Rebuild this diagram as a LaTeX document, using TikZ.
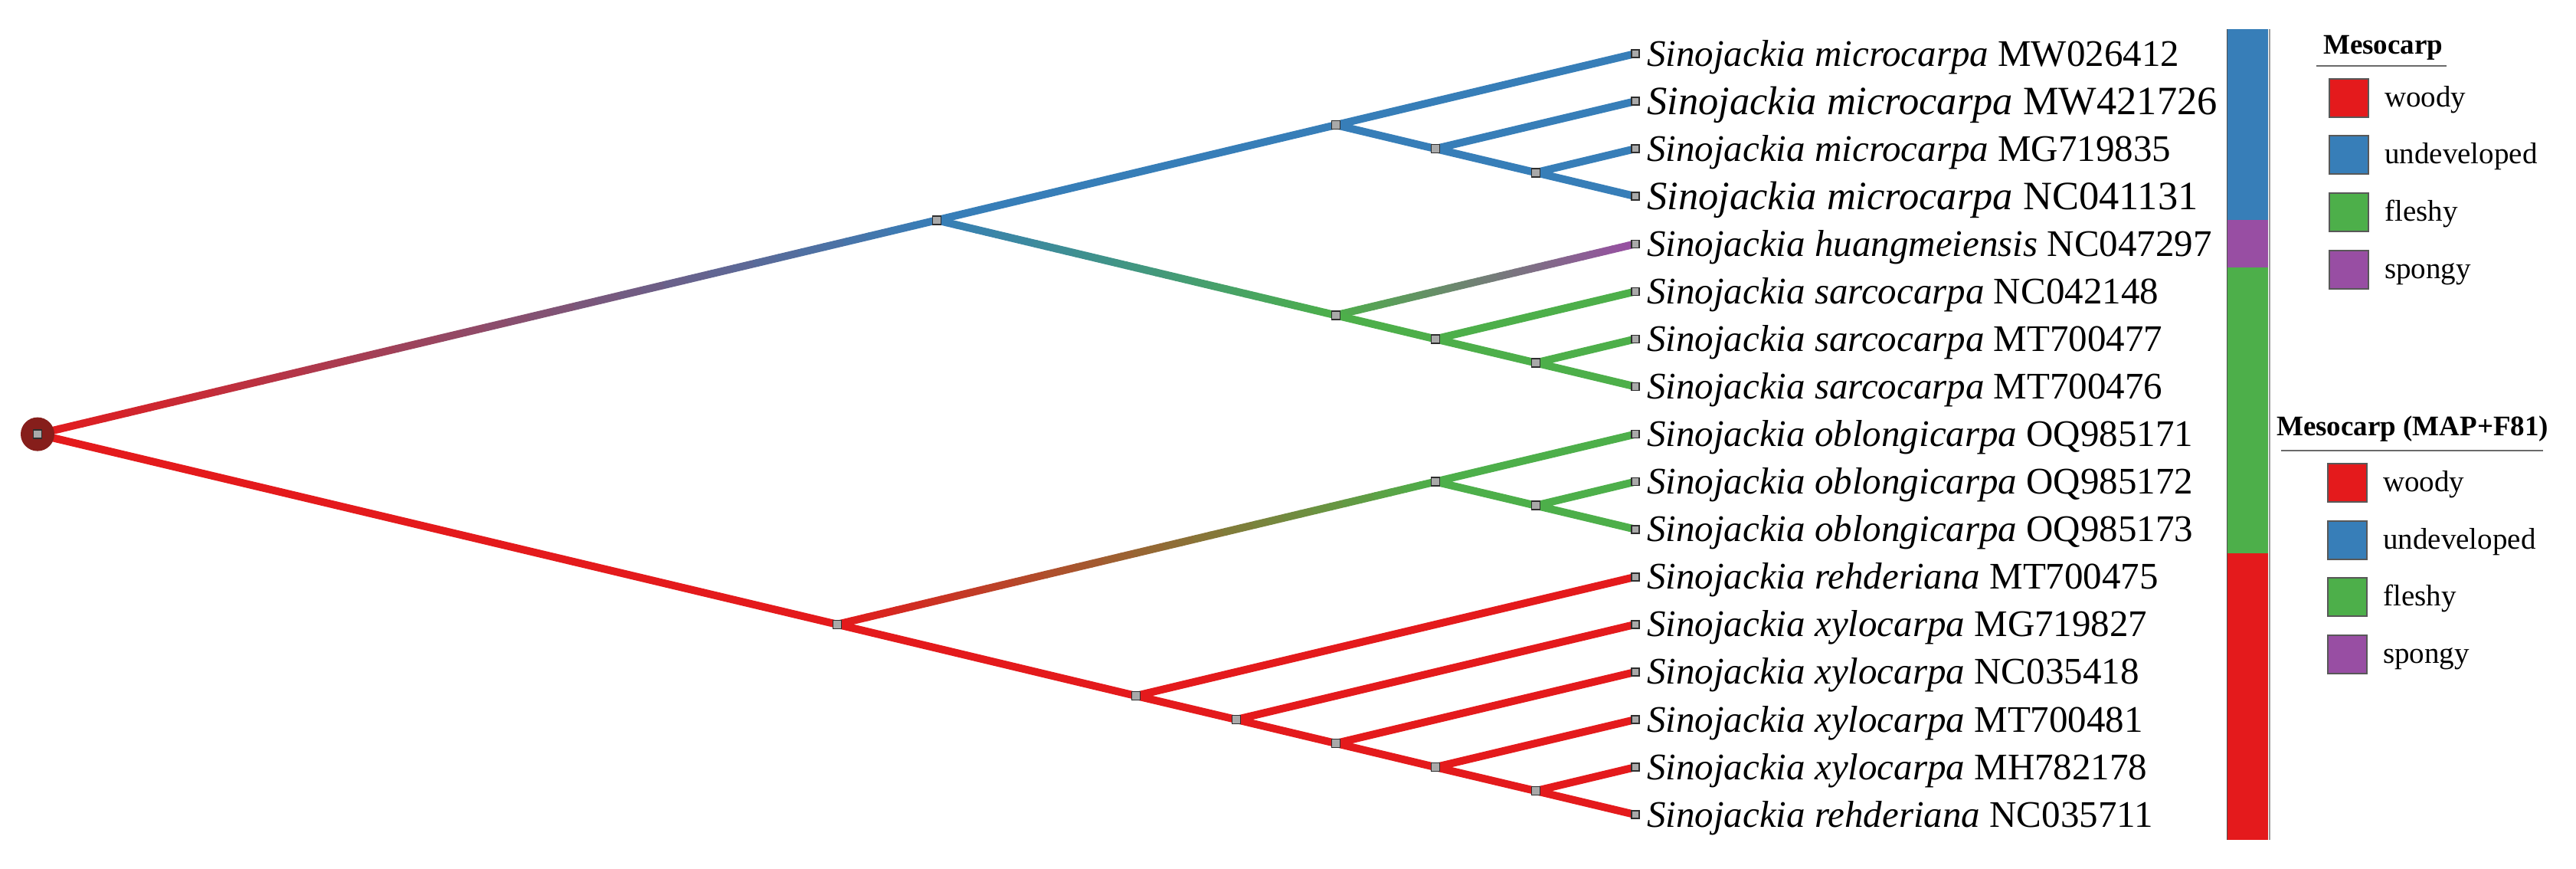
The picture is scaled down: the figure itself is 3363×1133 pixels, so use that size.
\documentclass[tikz,border=0pt]{standalone}
\usepackage{fontspec}
\setmainfont{Liberation Serif}
\usetikzlibrary{calc}
\definecolor{cwoody}{HTML}{E41A1C}
\definecolor{cundev}{HTML}{377EB8}
\definecolor{cfleshy}{HTML}{4DAF4A}
\definecolor{cspongy}{HTML}{984EA3}
\definecolor{rootred}{HTML}{861E1B}
\definecolor{mkfill}{HTML}{A9A9A9}
\definecolor{mkdraw}{HTML}{2E2E2E}
\definecolor{ulgrey}{HTML}{6A6A6A}
\tikzset{
  branch/.style={line width=10pt, line cap=round},
  marker/.style={rectangle, draw=mkdraw, fill=mkfill, line width=1.6pt, minimum size=11pt, inner sep=0pt},
  tiplabel/.style={anchor=base west, inner sep=0pt, font=\fontsize{49}{58}\selectfont},
  tiplabelbig/.style={anchor=base west, inner sep=0pt, font=\fontsize{52.5}{62}\selectfont},
  legtitle/.style={anchor=base west, inner sep=0pt, font=\fontsize{37}{44}\selectfont\bfseries},
  legbox/.style={rectangle, draw=mkdraw!80, line width=1.4pt, minimum width=51pt, minimum height=50pt, inner sep=0pt},
  leglabel/.style={anchor=base west, inner sep=0pt, font=\fontsize{39}{46}\selectfont},
  underl/.style={draw=ulgrey, line width=2pt}
}
\newcommand{\gbranch}[4]{%
  \foreach \k in {0,...,39}{%
    \pgfmathsetmacro{\ta}{\k/40}%
    \pgfmathsetmacro{\tb}{(\k+1)/40}%
    \pgfmathtruncatemacro{\pc}{100*(\k+0.5)/40}%
    \draw[branch, color=#4!\pc!#3] ($(#1)!\ta!(#2)$) -- ($(#1)!\tb!(#2)$);
  }%
}
\begin{document}
\begin{tikzpicture}[x=1pt,y=-1pt]
\useasboundingbox[fill=white] (0,0) rectangle (3363,1133);
% tips
\foreach \i/\y in {0/70.0,1/132.1,2/194.1,3/256.2,4/318.3,5/380.4,6/442.4,7/504.5,8/566.6,9/628.6,10/690.7,11/752.8,12/814.8,13/876.9,14/939.0,15/1001.1,16/1063.1}
  \coordinate (t\i) at (2135,\y);
% internal nodes
\coordinate (root) at (49,566.6);
\coordinate (A) at (1223,287.3);
\coordinate (B) at (1744,163.1);
\coordinate (C) at (1874,194.1);
\coordinate (D) at (2005,225.2);
\coordinate (E) at (1744,411.4);
\coordinate (F) at (1874,442.4);
\coordinate (G) at (2005,473.5);
\coordinate (H) at (1093,814.8);
\coordinate (I) at (1874,628.6);
\coordinate (J) at (2005,659.7);
\coordinate (K) at (1483,908.0);
\coordinate (L) at (1614,939.0);
\coordinate (M) at (1744,970.0);
\coordinate (N) at (1874,1001.1);
\coordinate (O) at (2005,1032.1);
% branches
\gbranch{root}{A}{cwoody}{cundev}
\draw[branch, cwoody] (root) -- (H);
\draw[branch, cundev] (A) -- (B) (B) -- (t0) (B) -- (C) (C) -- (t1) (C) -- (D) (D) -- (t2) (D) -- (t3);
\gbranch{A}{E}{cundev}{cfleshy}
\gbranch{E}{t4}{cfleshy}{cspongy}
\draw[branch, cfleshy] (E) -- (F) (F) -- (t5) (F) -- (G) (G) -- (t6) (G) -- (t7);
\gbranch{H}{I}{cwoody}{cfleshy}
\draw[branch, cfleshy] (I) -- (t8) (I) -- (J) (J) -- (t9) (J) -- (t10);
\draw[branch, cwoody] (H) -- (K) (K) -- (t11) (K) -- (L) (L) -- (t12) (L) -- (M) (M) -- (t13) (M) -- (N) (N) -- (t14) (N) -- (O) (O) -- (t15) (O) -- (t16);
% root marker
\node[circle, fill=rootred, minimum size=44pt, inner sep=0pt] (rootdot) at (root) {};
\node[marker] (mroot) at (root) {};
% internal markers
\foreach \n in {A,B,C,D,E,F,G,H,I,J,K,L,M,N,O}
  \node[marker] (m\n) at (\n) {};
% tip markers
\foreach \i in {0,...,16}
  \node[marker, minimum size=10pt] (mt\i) at (t\i) {};
% tip labels
\node[tiplabel] (l0) at ($(t0)+(15,16)$) {\textit{Sinojackia microcarpa} MW026412};
\node[tiplabelbig] (l1) at ($(t1)+(15,17)$) {\textit{Sinojackia microcarpa} MW421726};
\node[tiplabel] (l2) at ($(t2)+(15,16)$) {\textit{Sinojackia microcarpa} MG719835};
\node[tiplabelbig] (l3) at ($(t3)+(15,17)$) {\textit{Sinojackia microcarpa} NC041131};
\node[tiplabel] (l4) at ($(t4)+(15,16)$) {\textit{Sinojackia huangmeiensis} NC047297};
\node[tiplabel] (l5) at ($(t5)+(15,16)$) {\textit{Sinojackia sarcocarpa} NC042148};
\node[tiplabel] (l6) at ($(t6)+(15,16)$) {\textit{Sinojackia sarcocarpa} MT700477};
\node[tiplabel] (l7) at ($(t7)+(15,16)$) {\textit{Sinojackia sarcocarpa} MT700476};
\node[tiplabel] (l8) at ($(t8)+(15,16)$) {\textit{Sinojackia oblongicarpa} OQ985171};
\node[tiplabel] (l9) at ($(t9)+(15,16)$) {\textit{Sinojackia oblongicarpa} OQ985172};
\node[tiplabel] (l10) at ($(t10)+(15,16)$) {\textit{Sinojackia oblongicarpa} OQ985173};
\node[tiplabel] (l11) at ($(t11)+(15,16)$) {\textit{Sinojackia rehderiana} MT700475};
\node[tiplabel] (l12) at ($(t12)+(15,16)$) {\textit{Sinojackia xylocarpa} MG719827};
\node[tiplabel] (l13) at ($(t13)+(15,16)$) {\textit{Sinojackia xylocarpa} NC035418};
\node[tiplabel] (l14) at ($(t14)+(15,16)$) {\textit{Sinojackia xylocarpa} MT700481};
\node[tiplabel] (l15) at ($(t15)+(15,16)$) {\textit{Sinojackia xylocarpa} MH782178};
\node[tiplabel] (l16) at ($(t16)+(15,16)$) {\textit{Sinojackia rehderiana} NC035711};
% colour bar
\fill[cundev] (2907,38) rectangle (2961,287.3);
\fill[cspongy] (2907,287.3) rectangle (2961,349.4);
\fill[cfleshy] (2907,349.4) rectangle (2961,721.7);
\fill[cwoody] (2907,721.7) rectangle (2961,1096);
\draw[black!70, line width=1pt] (2907.5,38) -- (2907.5,1096);
\draw[black!40, line width=2pt] (2962.5,38) -- (2962.5,1096);
% legend 1
\node[legtitle] (lt1) at (3033,70) {Mesocarp};
\coordinate (u1a) at (3024,86);
\coordinate (u1b) at (3194,86);
\draw[underl] (u1a) -- (u1b);
\node[legbox, fill=cwoody] (b1w) at (3066.5,128) {};
\node[legbox, fill=cundev] (b1u) at (3066.5,202) {};
\node[legbox, fill=cfleshy] (b1f) at (3066.5,277) {};
\node[legbox, fill=cspongy] (b1s) at (3066.5,352) {};
\node[leglabel] (g1w) at (3113,139) {woody};
\node[leglabel] (g1u) at (3113,213) {undeveloped};
\node[leglabel] (g1f) at (3113,288) {fleshy};
\node[leglabel] (g1s) at (3113,363) {spongy};
% legend 2
\node[legtitle] (lt2) at (2972,568) {Mesocarp (MAP+F81)};
\coordinate (u2a) at (2978,588);
\coordinate (u2b) at (3320,588);
\draw[underl] (u2a) -- (u2b);
\node[legbox, fill=cwoody] (b2w) at (3064.5,630) {};
\node[legbox, fill=cundev] (b2u) at (3064.5,705) {};
\node[legbox, fill=cfleshy] (b2f) at (3064.5,779) {};
\node[legbox, fill=cspongy] (b2s) at (3064.5,854) {};
\node[leglabel] (g2w) at (3111,641) {woody};
\node[leglabel] (g2u) at (3111,716) {undeveloped};
\node[leglabel] (g2f) at (3111,790) {fleshy};
\node[leglabel] (g2s) at (3111,865) {spongy};
\end{tikzpicture}
\end{document}
